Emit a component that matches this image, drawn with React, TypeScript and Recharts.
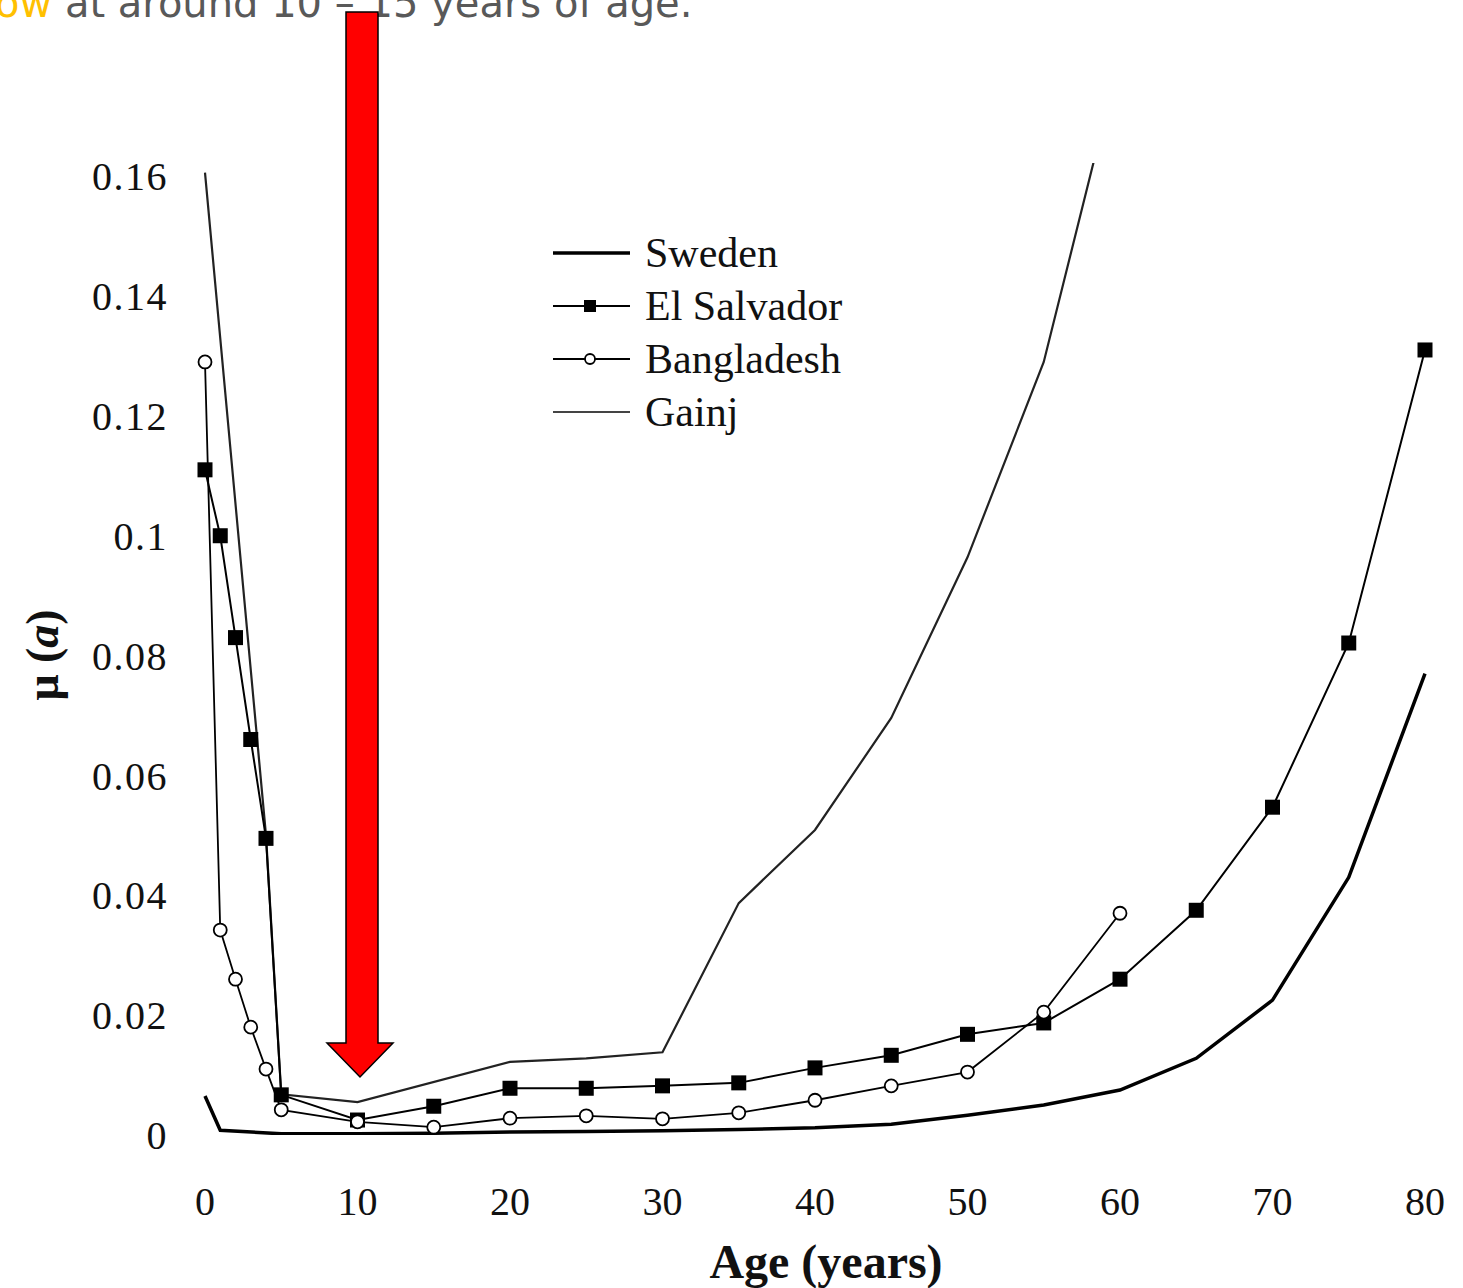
import { LineChart, Line, XAxis, YAxis, Legend } from "recharts";

// mortality rate mu(a) by age
const SWEDEN_AGES = [0, 1, 5, 10, 15, 20, 25, 30, 35, 40, 45, 50, 55, 60, 65, 70, 75, 80];
const SWEDEN_MU = [0.0065, 0.0008, 0.0002, 0.0002, 0.0003, 0.0005, 0.0006, 0.0007, 0.0009, 0.0012, 0.0018, 0.0033, 0.005, 0.0075, 0.0128, 0.0225, 0.043, 0.077];

const EL_SALVADOR_AGES = [0, 1, 2, 3, 4, 5, 10, 15, 20, 25, 30, 35, 40, 45, 50, 55, 60, 65, 70, 75, 80];
const EL_SALVADOR_MU = [0.111, 0.1, 0.083, 0.066, 0.0495, 0.0067, 0.0025, 0.0048, 0.0078, 0.0078, 0.0082, 0.0087, 0.0112, 0.0133, 0.0168, 0.0187, 0.026, 0.0375, 0.0547, 0.0821, 0.131];

const BANGLADESH_AGES = [0, 1, 2, 3, 4, 5, 10, 15, 20, 25, 30, 35, 40, 45, 50, 55, 60];
const BANGLADESH_MU = [0.129, 0.0342, 0.026, 0.018, 0.011, 0.0042, 0.0022, 0.0013, 0.0028, 0.0032, 0.0027, 0.0037, 0.0058, 0.0082, 0.0105, 0.0205, 0.037];

const GAINJ_AGES = [0, 4, 5, 10, 20, 25, 30, 35, 40, 45, 50, 55, 60];
const GAINJ_MU = [0.1606, 0.05, 0.0068, 0.0055, 0.0122, 0.0128, 0.0138, 0.0387, 0.0509, 0.0696, 0.0964, 0.129, 0.18];

const X_TICKS = [0, 10, 20, 30, 40, 50, 60, 70, 80];
const Y_TICKS = [0, 0.02, 0.04, 0.06, 0.08, 0.1, 0.12, 0.14, 0.16];

const SERIF = "'Liberation Serif', 'Times New Roman', serif";

const zip = (ages: number[], mu: number[]) => ages.map((age, i) => ({ age, mu: mu[i] }));

const sweden = zip(SWEDEN_AGES, SWEDEN_MU);
const elSalvador = zip(EL_SALVADOR_AGES, EL_SALVADOR_MU);
const bangladesh = zip(BANGLADESH_AGES, BANGLADESH_MU);
const gainj = zip(GAINJ_AGES, GAINJ_MU);

function SquareDot(props: any) {
  const { cx, cy, index } = props;
  if (cx == null || cy == null) return null;
  return <rect key={`sq-${index}`} x={cx - 7.5} y={cy - 7.5} width={15} height={15} fill="#000" />;
}

function CircleDot(props: any) {
  const { cx, cy, index } = props;
  if (cx == null || cy == null) return null;
  return <circle key={`ci-${index}`} cx={cx} cy={cy} r={6.5} fill="#fff" stroke="#000" strokeWidth={1.8} />;
}

const LEGEND_ROWS = [
  { name: "Sweden", width: 3.5, color: "#000", marker: null },
  { name: "El Salvador", width: 2, color: "#000", marker: "square" },
  { name: "Bangladesh", width: 1.8, color: "#000", marker: "circle" },
  { name: "Gainj", width: 2.2, color: "#444", marker: null },
];

function LegendBox() {
  return (
    <svg width={320} height={220}>
      {LEGEND_ROWS.map((r, i) => {
        const y = 25 + i * 53;
        return (
          <g key={r.name}>
            <line x1={0} x2={77} y1={y} y2={y} stroke={r.color} strokeWidth={r.width} />
            {r.marker === "square" && <rect x={31} y={y - 6} width={12} height={12} fill="#000" />}
            {r.marker === "circle" && <circle cx={37} cy={y} r={5} fill="#fff" stroke="#000" strokeWidth={1.8} />}
            <text x={92} y={y + 14} fontFamily={SERIF} fontSize={42} fill="#111">
              {r.name}
            </text>
          </g>
        );
      })}
    </svg>
  );
}

export default function App() {
  return (
    <div style={{ position: "absolute", left: 0, top: 0, width: 1463, height: 1288, background: "#fff", overflow: "hidden" }}>
      <LineChart width={1463} height={1288} data={sweden} margin={{ top: 163, right: 38, bottom: 93, left: 85 }}>
        <XAxis
          type="number"
          dataKey="age"
          domain={[0, 80]}
          ticks={X_TICKS}
          axisLine={false}
          tickLine={false}
          tickSize={0}
          tickMargin={52}
          height={60}
          tick={{ fontFamily: SERIF, fontSize: 40, fill: "#111" }}
        />
        <YAxis
          type="number"
          dataKey="mu"
          domain={[0, 0.1622]}
          allowDataOverflow
          ticks={Y_TICKS}
          axisLine={false}
          tickLine={false}
          tickSize={0}
          tickMargin={37}
          width={120}
          tickFormatter={(v: number) => String(+v.toFixed(2))}
          tick={{ fontFamily: SERIF, fontSize: 40, fill: "#111", letterSpacing: 1.5 }}
        />
        <Legend layout="vertical" align="center" verticalAlign="middle" wrapperStyle={{ left: 553, top: 228, width: 320 }} content={() => <LegendBox />} />
        <Line data={gainj} dataKey="mu" type="linear" stroke="#222" strokeWidth={2.2} dot={false} isAnimationActive={false} />
        <Line data={sweden} dataKey="mu" type="linear" stroke="#000" strokeWidth={3.5} dot={false} isAnimationActive={false} />
        <Line data={elSalvador} dataKey="mu" type="linear" stroke="#000" strokeWidth={2} dot={<SquareDot />} isAnimationActive={false} />
        <Line data={bangladesh} dataKey="mu" type="linear" stroke="#000" strokeWidth={1.8} dot={<CircleDot />} isAnimationActive={false} />
      </LineChart>

      <svg width={1463} height={1288} style={{ position: "absolute", left: 0, top: 0, pointerEvents: "none" }}>
        <text x={-5} y={17} fontFamily="'DejaVu Sans', sans-serif" fontSize={40} fill="#595959">
          <tspan fill="#FFC000">ow</tspan> at around 10 – 15 years of age.
        </text>
        <polygon points="346,12 378,12 378,1043 393,1043 360,1077 327,1043 346,1043" fill="#FF0000" stroke="#000" strokeWidth={1.5} />
        <text x={826} y={1278} textAnchor="middle" fontFamily={SERIF} fontSize={48} fontWeight="bold" fill="#111">
          Age (years)
        </text>
        <text transform="translate(58,655) rotate(-90)" textAnchor="middle" fontFamily={SERIF} fontSize={46} fontWeight="bold" fill="#111">
          μ (<tspan fontStyle="italic">a</tspan>)
        </text>
      </svg>
    </div>
  );
}
